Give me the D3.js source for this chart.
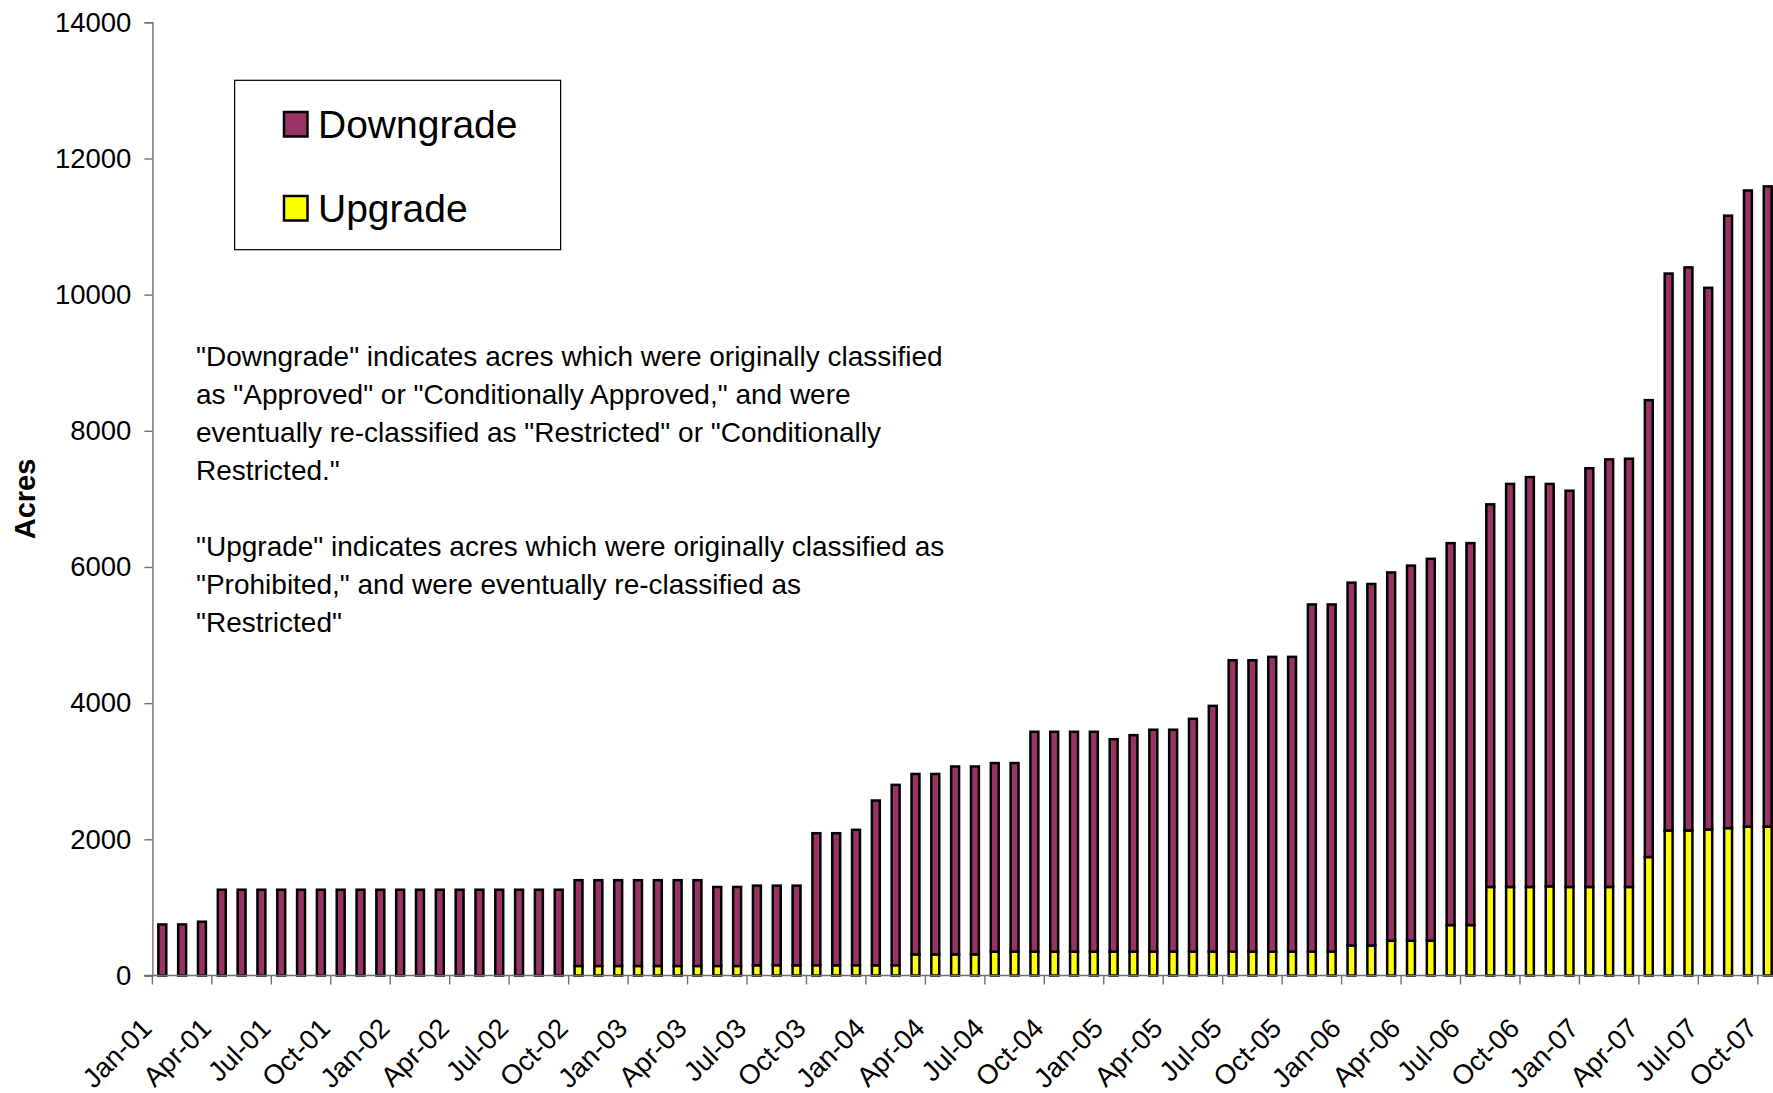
<!DOCTYPE html>
<html>
<head>
<meta charset="utf-8">
<script src="https://cdn.jsdelivr.net/npm/d3@7"></script>
<style>
  body { margin: 0; background: #ffffff; }
  svg text { font-family: "Liberation Sans", Arial, sans-serif; fill: #000; }
</style>
</head>
<body>
<div id="chart_div"></div>
<script>
// monthly categories Jan-01 .. Oct-07
var months = d3.timeMonth.range(new Date(2001, 0, 1), new Date(2007, 10, 1));
var month_format = d3.timeFormat('%b-%y');

// acres re-classified from "Prohibited" (bottom segment)
var upgrade = [
    0, 0, 0, 0, 0, 0, 0, 0, 0, 0, 0, 0,
    0, 0, 0, 0, 0, 0, 0, 0, 0, 140, 140, 140,
    140, 140, 140, 140, 140, 140, 150, 150, 150, 150, 150, 150,
    150, 150, 310, 310, 310, 310, 350, 350, 350, 350, 350, 350,
    350, 350, 350, 350, 350, 350, 350, 350, 350, 350, 350, 350,
    440, 440, 510, 510, 510, 740, 740, 1300, 1300, 1300, 1310, 1300,
    1300, 1300, 1300, 1740, 2130, 2130, 2145, 2165, 2185, 2185
];

// acres re-classified from "Approved" (top segment)
var downgrade = [
    750, 750, 790, 1260, 1260, 1260, 1260, 1260, 1260, 1260, 1260, 1260,
    1260, 1260, 1260, 1260, 1260, 1260, 1260, 1260, 1260, 1260, 1260, 1260,
    1260, 1260, 1260, 1260, 1160, 1160, 1170, 1170, 1170, 1940, 1940, 1990,
    2420, 2650, 2650, 2650, 2760, 2760, 2770, 2770, 3230, 3230, 3230, 3230,
    3120, 3180, 3260, 3260, 3420, 3610, 4280, 4280, 4330, 4330, 5100, 5100,
    5330, 5310, 5410, 5510, 5610, 5610, 5610, 5620, 5920, 6020, 5910, 5820,
    6150, 6280, 6290, 6710, 8180, 8270, 7955, 8995, 9345, 9405
];

var y_ticks = [0, 2000, 4000, 6000, 8000, 10000, 12000, 14000];
var series_names = ['Upgrade', 'Downgrade'];
var series_colors = ['#ffff00', '#993366'];

var note_lines = [
    '"Downgrade" indicates acres which were originally classified',
    'as "Approved" or "Conditionally Approved," and were',
    'eventually re-classified as "Restricted" or "Conditionally',
    'Restricted."',
    '',
    '"Upgrade" indicates acres which were originally classified as',
    '"Prohibited," and were eventually re-classified as',
    '"Restricted"'
];

var width = 1773;
var height = 1093;
var plot_left = 152.4;
var step = 19.82;
var plot_top = 22.3;
var plot_bottom = 975.5;

var rows = months.map(function(m, i) {
    return { month: m, Upgrade: upgrade[i], Downgrade: downgrade[i] };
});

var svg = d3.select('#chart_div')
    .append('svg')
    .attr('width', width)
    .attr('height', height);

var x = d3.scaleBand()
    .domain(months)
    .range([plot_left, plot_left + months.length * step])
    .paddingInner(0.6)
    .paddingOuter(0.3);

var y = d3.scaleLinear()
    .domain([0, 14000])
    .range([plot_bottom, plot_top]);

var stack = d3.stack().keys(series_names)(rows);

// bars
svg.append('g')
    .selectAll('g')
    .data(stack)
    .enter()
    .append('g')
    .attr('fill', function(d, i) { return series_colors[i]; })
    .selectAll('rect')
    .data(function(d) { return d; })
    .enter()
    .filter(function(d) { return d[1] - d[0] > 0; })
    .append('rect')
    .attr('x', function(d) { return x(d.data.month); })
    .attr('width', x.bandwidth())
    .attr('y', function(d) { return y(d[1]); })
    .attr('height', function(d) { return y(d[0]) - y(d[1]); })
    .attr('stroke', '#000')
    .attr('stroke-width', 2.5);

// y axis
var y_axis = svg.append('g')
    .attr('transform', `translate(${plot_left}, 0)`)
    .call(d3.axisLeft(y).tickValues(y_ticks).tickFormat(d3.format('d')).tickSize(8).tickPadding(13));
y_axis.select('.domain').attr('stroke', '#707070').attr('stroke-width', 1.4);
y_axis.selectAll('.tick line').attr('stroke', '#707070').attr('stroke-width', 1.4);
y_axis.selectAll('.tick text')
    .style('font-size', '27.5px')
    .attr('fill', '#000');

// x axis: ticks sit on category boundaries, every third month
function boundary(m) {
    return x(m) - (x.step() - x.bandwidth()) / 2;
}
var quarter_months = months.filter(function(m, i) { return i % 3 === 0; });

var x_axis = svg.append('g');
x_axis.append('line')
    .attr('x1', plot_left - 8)
    .attr('x2', plot_left + months.length * step)
    .attr('y1', plot_bottom)
    .attr('y2', plot_bottom)
    .attr('stroke', '#707070')
    .attr('stroke-width', 1.4);
x_axis.selectAll('.xtick')
    .data(quarter_months)
    .enter()
    .append('line')
    .attr('class', 'xtick')
    .attr('x1', boundary)
    .attr('x2', boundary)
    .attr('y1', plot_bottom)
    .attr('y2', plot_bottom + 9)
    .attr('stroke', '#707070')
    .attr('stroke-width', 1.4);
x_axis.selectAll('.xlabel')
    .data(quarter_months)
    .enter()
    .append('text')
    .attr('class', 'xlabel')
    .attr('transform', function(d) { return `translate(${boundary(d) + 1}, 1030) rotate(-45)`; })
    .attr('text-anchor', 'end')
    .style('font-size', '27.5px')
    .text(month_format);

// y axis title
svg.append('text')
    .attr('transform', 'translate(35, 499) rotate(-90)')
    .attr('text-anchor', 'middle')
    .style('font-size', '29px')
    .style('font-weight', 'bold')
    .text('Acres');

// legend
var legend = svg.append('g');
legend.append('rect')
    .attr('x', 234.6)
    .attr('y', 80.3)
    .attr('width', 326)
    .attr('height', 169.4)
    .attr('fill', '#fff')
    .attr('stroke', '#000')
    .attr('stroke-width', 1.2);

var legend_items = [
    { name: 'Downgrade', color: series_colors[1] },
    { name: 'Upgrade', color: series_colors[0] }
];
legend_items.forEach(function(item, i) {
    var base = 138 + i * 84;
    legend.append('rect')
        .attr('x', 284)
        .attr('y', base - 26)
        .attr('width', 23.5)
        .attr('height', 24.5)
        .attr('fill', item.color)
        .attr('stroke', '#000')
        .attr('stroke-width', 2.5);
    legend.append('text')
        .attr('x', 318)
        .attr('y', base)
        .style('font-size', '39px')
        .text(item.name);
});

// explanatory note
var note = svg.append('text')
    .style('font-size', '28px');
note_lines.forEach(function(line, i) {
    note.append('tspan')
        .attr('x', 196)
        .attr('y', 366 + i * 38)
        .text(line);
});
</script>
</body>
</html>
